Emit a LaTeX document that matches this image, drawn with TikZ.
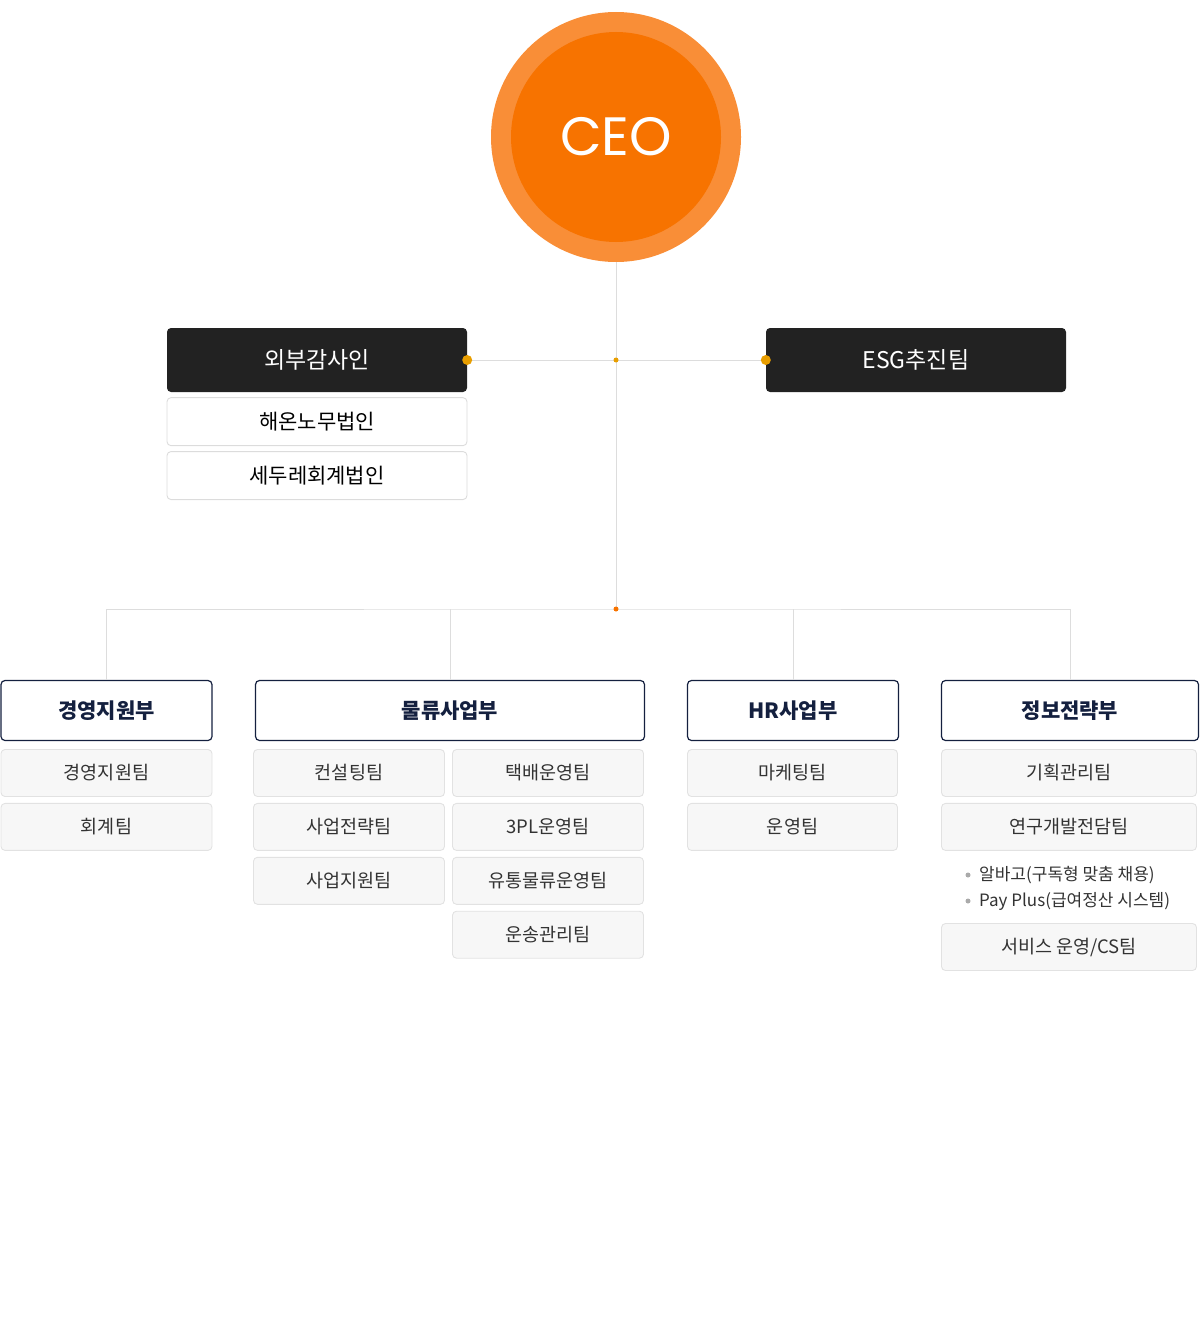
\documentclass[tikz,border=0pt]{standalone}
\usepackage{fontspec}
\setmainfont{Noto Sans CJK KR}
\newfontfamily\ceofont{Poppins}
\usetikzlibrary{positioning}
\definecolor{ceoouter}{HTML}{F98E37}
\definecolor{ceoinner}{HTML}{F77300}
\definecolor{boxdark}{HTML}{222222}
\definecolor{navy}{HTML}{14203F}
\definecolor{linegray}{HTML}{DDDDDD}
\definecolor{firmline}{HTML}{DCDCDC}
\definecolor{teamfill}{HTML}{F7F7F7}
\definecolor{teamline}{HTML}{E2E2E2}
\definecolor{teamtext}{HTML}{333333}
\definecolor{dotgold}{HTML}{E89E00}
\definecolor{bulletgray}{HTML}{AAAAAA}
\tikzset{
	headbox/.style={
			fill=boxdark, text=white, rounded corners=4pt, inner sep=0pt,
			minimum width=300pt, minimum height=64pt,
			font=\fontsize{23}{26}\selectfont
		},
	firmbox/.style={
			draw=firmline, line width=0.9pt, fill=white, text=black, rounded corners=4pt,
			inner sep=0pt, minimum width=300pt, minimum height=48pt,
			font=\fontsize{21}{24}\selectfont
		},
	deptbox/.style={
			draw=navy, line width=1.2pt, fill=white, text=navy, rounded corners=4pt,
			inner sep=0pt, minimum height=60pt,
			font=\fontsize{21}{24}\selectfont\bfseries
		},
	teambox/.style={
			draw=teamline, line width=0.9pt, fill=teamfill, text=teamtext, rounded corners=4pt,
			inner sep=0pt, minimum height=47pt,
			font=\fontsize{18.5}{21}\selectfont
		},
	bullettext/.style={anchor=west, inner sep=0pt, text=teamtext, font=\fontsize{17}{20}\selectfont},
	connector/.style={draw=linegray, line width=1pt}
}

\begin{document}
\begin{tikzpicture}[x=1pt,y=-1pt]
	\useasboundingbox (0,0) rectangle (1200,1327);

	% CEO circle
	\node[circle, fill=ceoouter, minimum size=250pt, inner sep=0pt] (ceo) at (616,137) {};
	\node[circle, fill=ceoinner, minimum size=210pt, inner sep=0pt, text=white,
		font=\ceofont\fontsize{54}{60}\selectfont] (ceoin) at (ceo) {CEO};

	% Junctions
	\coordinate (j1) at (616,360);
	\coordinate (j2) at (616,609);

	% Audit and ESG
	\node[headbox] (aud) at (317,360) {외부감사인};
	\node[headbox] (esg) at (916,360) {ESG추진팀};
	\node[firmbox, below=5pt of aud] (firm1) {해온노무법인};
	\node[firmbox, below=5pt of firm1] (firm2) {세두레회계법인};

	% Departments
	\node[deptbox, minimum width=211pt] (mgmt) at (106.5,710.5) {경영지원부};
	\node[deptbox, minimum width=389pt] (logi) at (450,710.5) {물류사업부};
	\node[deptbox, minimum width=211pt] (hr) at (793,710.5) {HR사업부};
	\node[deptbox, minimum width=257pt] (info) at (1070,710.5) {정보전략부};

	% Teams
	\node[teambox, minimum width=211pt] (mgmt1) at (106.5,773) {경영지원팀};
	\node[teambox, minimum width=211pt, below=6pt of mgmt1] (mgmt2) {회계팀};

	\node[teambox, minimum width=191pt] (logiA1) at (349,773) {컨설팅팀};
	\node[teambox, minimum width=191pt, below=6pt of logiA1] (logiA2) {사업전략팀};
	\node[teambox, minimum width=191pt, below=6pt of logiA2] (logiA3) {사업지원팀};
	\node[teambox, minimum width=191pt] (logiB1) at (548,773) {택배운영팀};
	\node[teambox, minimum width=191pt, below=6pt of logiB1] (logiB2) {3PL운영팀};
	\node[teambox, minimum width=191pt, below=6pt of logiB2] (logiB3) {유통물류운영팀};
	\node[teambox, minimum width=191pt, below=6pt of logiB3] (logiB4) {운송관리팀};

	\node[teambox, minimum width=210pt] (hr1) at (792.5,773) {마케팅팀};
	\node[teambox, minimum width=210pt, below=6pt of hr1] (hr2) {운영팀};

	\node[teambox, minimum width=255pt] (info1) at (1069,773) {기획관리팀};
	\node[teambox, minimum width=255pt, below=6pt of info1] (info2) {연구개발전담팀};
	\node[bullettext] (srv1) at (979,875) {알바고(구독형 맞춤 채용)};
	\node[bullettext] (srv2) at (979,901) {Pay Plus(급여정산 시스템)};
	\node[teambox, minimum width=255pt] (info3) at (1069,947) {서비스 운영/CS팀};

	% Draw lines
	\draw[connector] (ceo.south) -- (j2);
	\draw[connector] (aud.east) -- (esg.west);
	\draw[connector] (mgmt.north) |- (j2) -| (info.north);
	\draw[connector] (logi.north) -- (logi.north |- j2);
	\draw[connector] (hr.north) -- (hr.north |- j2);

	% Draw points
	\fill[dotgold] (aud.east) circle (5);
	\fill[dotgold] (esg.west) circle (5);
	\fill[dotgold] (j1) circle (2.5);
	\fill[ceoinner] (j2) circle (2.5);
	\fill[bulletgray] (968,875) circle (2.5);
	\fill[bulletgray] (968,901) circle (2.5);
\end{tikzpicture}
\end{document}
